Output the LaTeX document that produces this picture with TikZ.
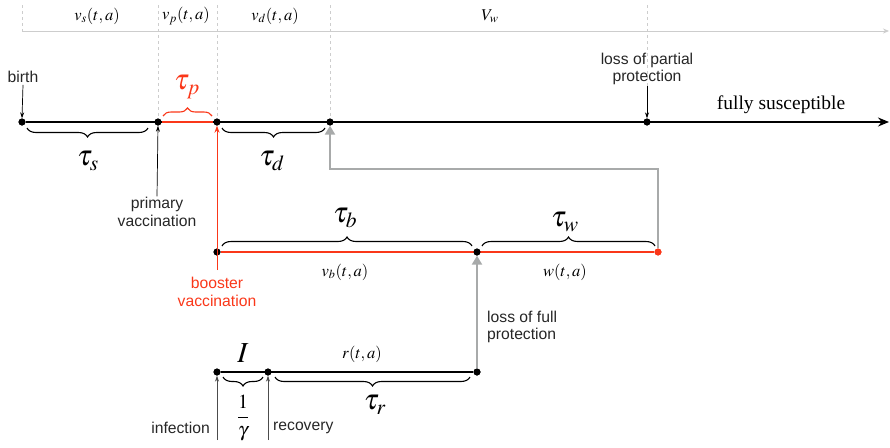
\documentclass[tikz,border=0pt]{standalone}
\usepackage{mathptmx}
\usepackage{fontspec}
\setmainfont{Liberation Serif}
\setsansfont{Liberation Sans}
\usetikzlibrary{arrows.meta,decorations.pathreplacing}
\definecolor{myred}{RGB}{250,55,25}
\definecolor{mygray}{RGB}{168,170,170}
\definecolor{lightg}{RGB}{205,205,205}
\tikzset{
  dot/.style={circle,fill=black,inner sep=0pt,minimum size=7pt},
  reddot/.style={circle,fill=myred,inner sep=0pt,minimum size=7pt},
  guide/.style={lightg,dashed,line width=0.9pt,dash pattern=on 3pt off 3pt},
  lab/.style={font=\sffamily\fontsize{15.7}{17.5}\selectfont,align=center,text=black!85,inner sep=1pt},
  mlab/.style={font=\fontsize{16.5}{18}\selectfont,inner sep=1pt},
  tlab/.style={font=\fontsize{29}{31}\selectfont,inner sep=1pt},
  br/.style={decorate,decoration={brace,amplitude=9pt},line width=1.1pt},
  brm/.style={decorate,decoration={brace,amplitude=9pt,mirror},line width=1.1pt},
  thinarr/.style={-{Stealth[length=6pt,width=4pt]},line width=0.7pt},
  grayarr/.style={mygray,line width=2.6pt,-{Triangle[length=9pt,width=10pt]}},
}
\begin{document}
\begin{tikzpicture}[x=1pt,y=-1pt]
\useasboundingbox (0,0) rectangle (890,447);
% top timeline points
\node[dot] (b0) at (22,122) {};
\node[dot] (p0) at (158,122) {};
\node[dot] (bo0) at (217,122) {};
\node[dot] (d0) at (330,122) {};
\node[dot] (lp0) at (647,122) {};
\coordinate (end) at (889,122);
% guides
\coordinate (gb) at (22,5);
\coordinate (gp) at (158,5);
\coordinate (gbo) at (217,5);
\coordinate (gd) at (330,5);
\coordinate (glp) at (647,5);
\draw[guide] (gb) -- (22,31);
\draw[guide] (gp) -- (p0);
\draw[guide] (gbo) -- (bo0);
\draw[guide] (gd) -- (d0);
\draw[guide] (glp) -- (647,90);
\coordinate (ts) at (22,31);
\coordinate (te) at (889,31);
\draw[lightg,line width=0.8pt,-{Stealth[length=6pt,width=5pt]}] (ts) -- (te);
\node[mlab] (vs) at (97,16) {$v_s(t,a)$};
\node[mlab] (vp) at (186,16) {$v_p(t,a)$};
\node[mlab] (vd) at (275,16) {$v_d(t,a)$};
\node[mlab] (Vw) at (490,16) {$V_w$};
% main line
\draw[line width=1.8pt,-{Stealth[length=11pt,width=9pt]}] (b0) -- (end);
\draw[myred,line width=2.6pt] (p0) -- (bo0);
\node[dot] at (b0) {};
\node[dot] at (p0) {};
\node[dot] at (bo0) {};
\node[dot] at (d0) {};
\node[dot] at (lp0) {};
% labels top
\node[lab] (birth) at (23,77) {birth};
\draw[thinarr] (birth.south) ++(0,1) -- (b0.north);
\node[lab] (lpp) at (647,69) {loss of partial\\protection};
\draw[thinarr] (lpp.south) -- (lp0.north);
\node[font=\fontsize{19.5}{21}\selectfont] (fs) at (781,105) {fully susceptible};
% braces top
\node[tlab,text=myred] (tp) at (187,87) {$\tau_p$};
\draw[br,myred,decoration={amplitude=8pt}] (163,116) -- (212,116);
\draw[brm] (27,128) -- (148,128);
\node[tlab] (tsl) at (88,161) {$\tau_s$};
\draw[brm] (222,128) -- (325,128);
\node[tlab] (tdl) at (272,161) {$\tau_d$};
% primary vaccination
\node[lab] (pv) at (157,212) {primary\\vaccination};
\draw[thinarr] (pv.north) -- (p0.south);
% middle line
\node[dot] (bo1) at (217,252) {};
\node[dot] (lf1) at (477,252) {};
\node[reddot] (w1) at (658,252) {};
\draw[myred,line width=1.4pt] (bo1) -- (w1);
\node[dot] at (bo1) {};
\node[dot] at (lf1) {};
\node[reddot] at (w1) {};
\node[lab,text=myred] (bv) at (217,292) {booster\\vaccination};
\coordinate (rb) at (217,270);
\draw[myred,line width=0.9pt,-{Stealth[length=7pt,width=5pt]}] (rb) -- (bo0.south);
\draw[br] (222,246) -- (472,246);
\node[tlab] (tbl) at (345,218) {$\tau_b$};
\draw[br] (482,246) -- (655,246);
\node[tlab] (twl) at (565,222) {$\tau_w$};
\node[mlab] (vb) at (345,272) {$v_b(t,a)$};
\node[mlab] (wl) at (565,272) {$w(t,a)$};
% gray return arrow
\coordinate (turn) at (658,169);
\draw[grayarr] (w1.north) -- (turn) -| (d0.south);
% bottom line
\node[dot] (inf) at (217,372) {};
\node[dot] (rec) at (268,372) {};
\node[dot] (lf2) at (477,372) {};
\draw[line width=1.6pt] (inf) -- (lf2);
\node[dot] at (inf) {};
\node[dot] at (rec) {};
\node[dot] at (lf2) {};
\draw[grayarr] (lf2.north) -- (lf1.south);
\node[lab,align=left,anchor=west] (lfp) at (486,327) {loss of full\\protection};
\node[tlab] (Il) at (243,353) {$I$};
\node[mlab] (rl) at (362,354) {$r(t,a)$};
\draw[brm] (223,377) -- (263,377);
\node[font=\fontsize{20}{22}\selectfont] (gl) at (243,418) {$\displaystyle\frac{1}{\gamma}$};
\draw[brm] (275,377) -- (470,377);
\node[tlab] (trl) at (375,405) {$\tau_r$};
\coordinate (ib) at (217,440);
\coordinate (rb2) at (268,440);
\draw[thinarr,black!70] (ib) -- (inf.south);
\draw[thinarr,black!70] (rb2) -- (rec.south);
\node[lab,anchor=east] (infl) at (211,428) {infection};
\node[lab,anchor=west] (recl) at (272,428) {recovery};
\end{tikzpicture}
\end{document}
